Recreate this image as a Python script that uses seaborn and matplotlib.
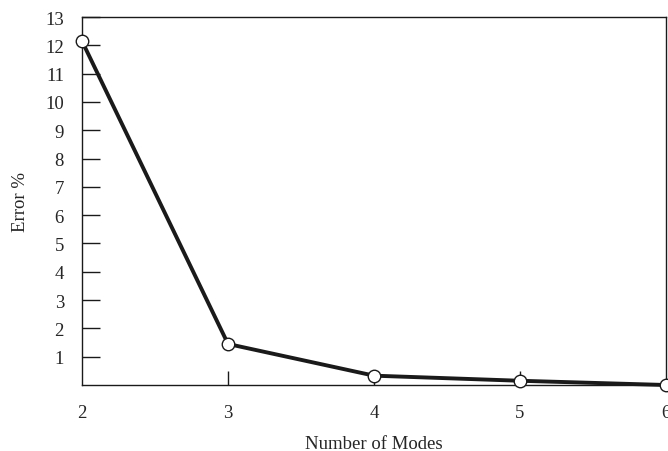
import matplotlib
matplotlib.use("Agg")
import matplotlib.pyplot as plt
import seaborn as sns
import pandas as pd

modes = [2, 3, 4, 5, 6]
error_pct = [12.15, 1.45, 0.33, 0.15, 0.0]
y_ticks = list(range(1, 14))
x_ticks = [2, 3, 4, 5, 6]

sns.set_style("ticks")
plt.rcParams["font.family"] = ["Liberation Serif", "DejaVu Serif"]

df = pd.DataFrame({"Number of Modes": modes, "Error %": error_pct})

fig = plt.figure(figsize=(6.68, 4.52), dpi=100)
ax = fig.add_axes([0.1228, 0.146, 0.8742, 0.814])

sns.lineplot(data=df, x="Number of Modes", y="Error %", ax=ax,
             color="#1a1a1a", linewidth=2.8, marker="o", markersize=9,
             markerfacecolor="white", markeredgecolor="#1a1a1a",
             markeredgewidth=1.0, clip_on=False, zorder=3)

ax.set_xlim(2, 6)
ax.set_ylim(0, 13)
ax.set_yticks(y_ticks)
ax.set_xticks(x_ticks)
ax.set_xticklabels([str(v) for v in x_ticks])
ax.tick_params(axis="y", direction="in", length=13, width=1.0, labelsize=13.5, pad=13, color="#1a1a1a")
ax.tick_params(axis="x", direction="in", length=10, width=1.0, labelsize=13.5, pad=14, color="#1a1a1a")
xt = ax.xaxis.get_major_ticks()
xt[0].tick1line.set_visible(False)
xt[-1].tick1line.set_visible(False)
for s in ax.spines.values():
    s.set_linewidth(1.0)
    s.set_color("#1a1a1a")
ax.set_xlabel("Number of Modes", fontsize=13.5, labelpad=10)
ax.set_ylabel("Error %", fontsize=13.5, labelpad=12)

fig.savefig("out.png", dpi=100)
